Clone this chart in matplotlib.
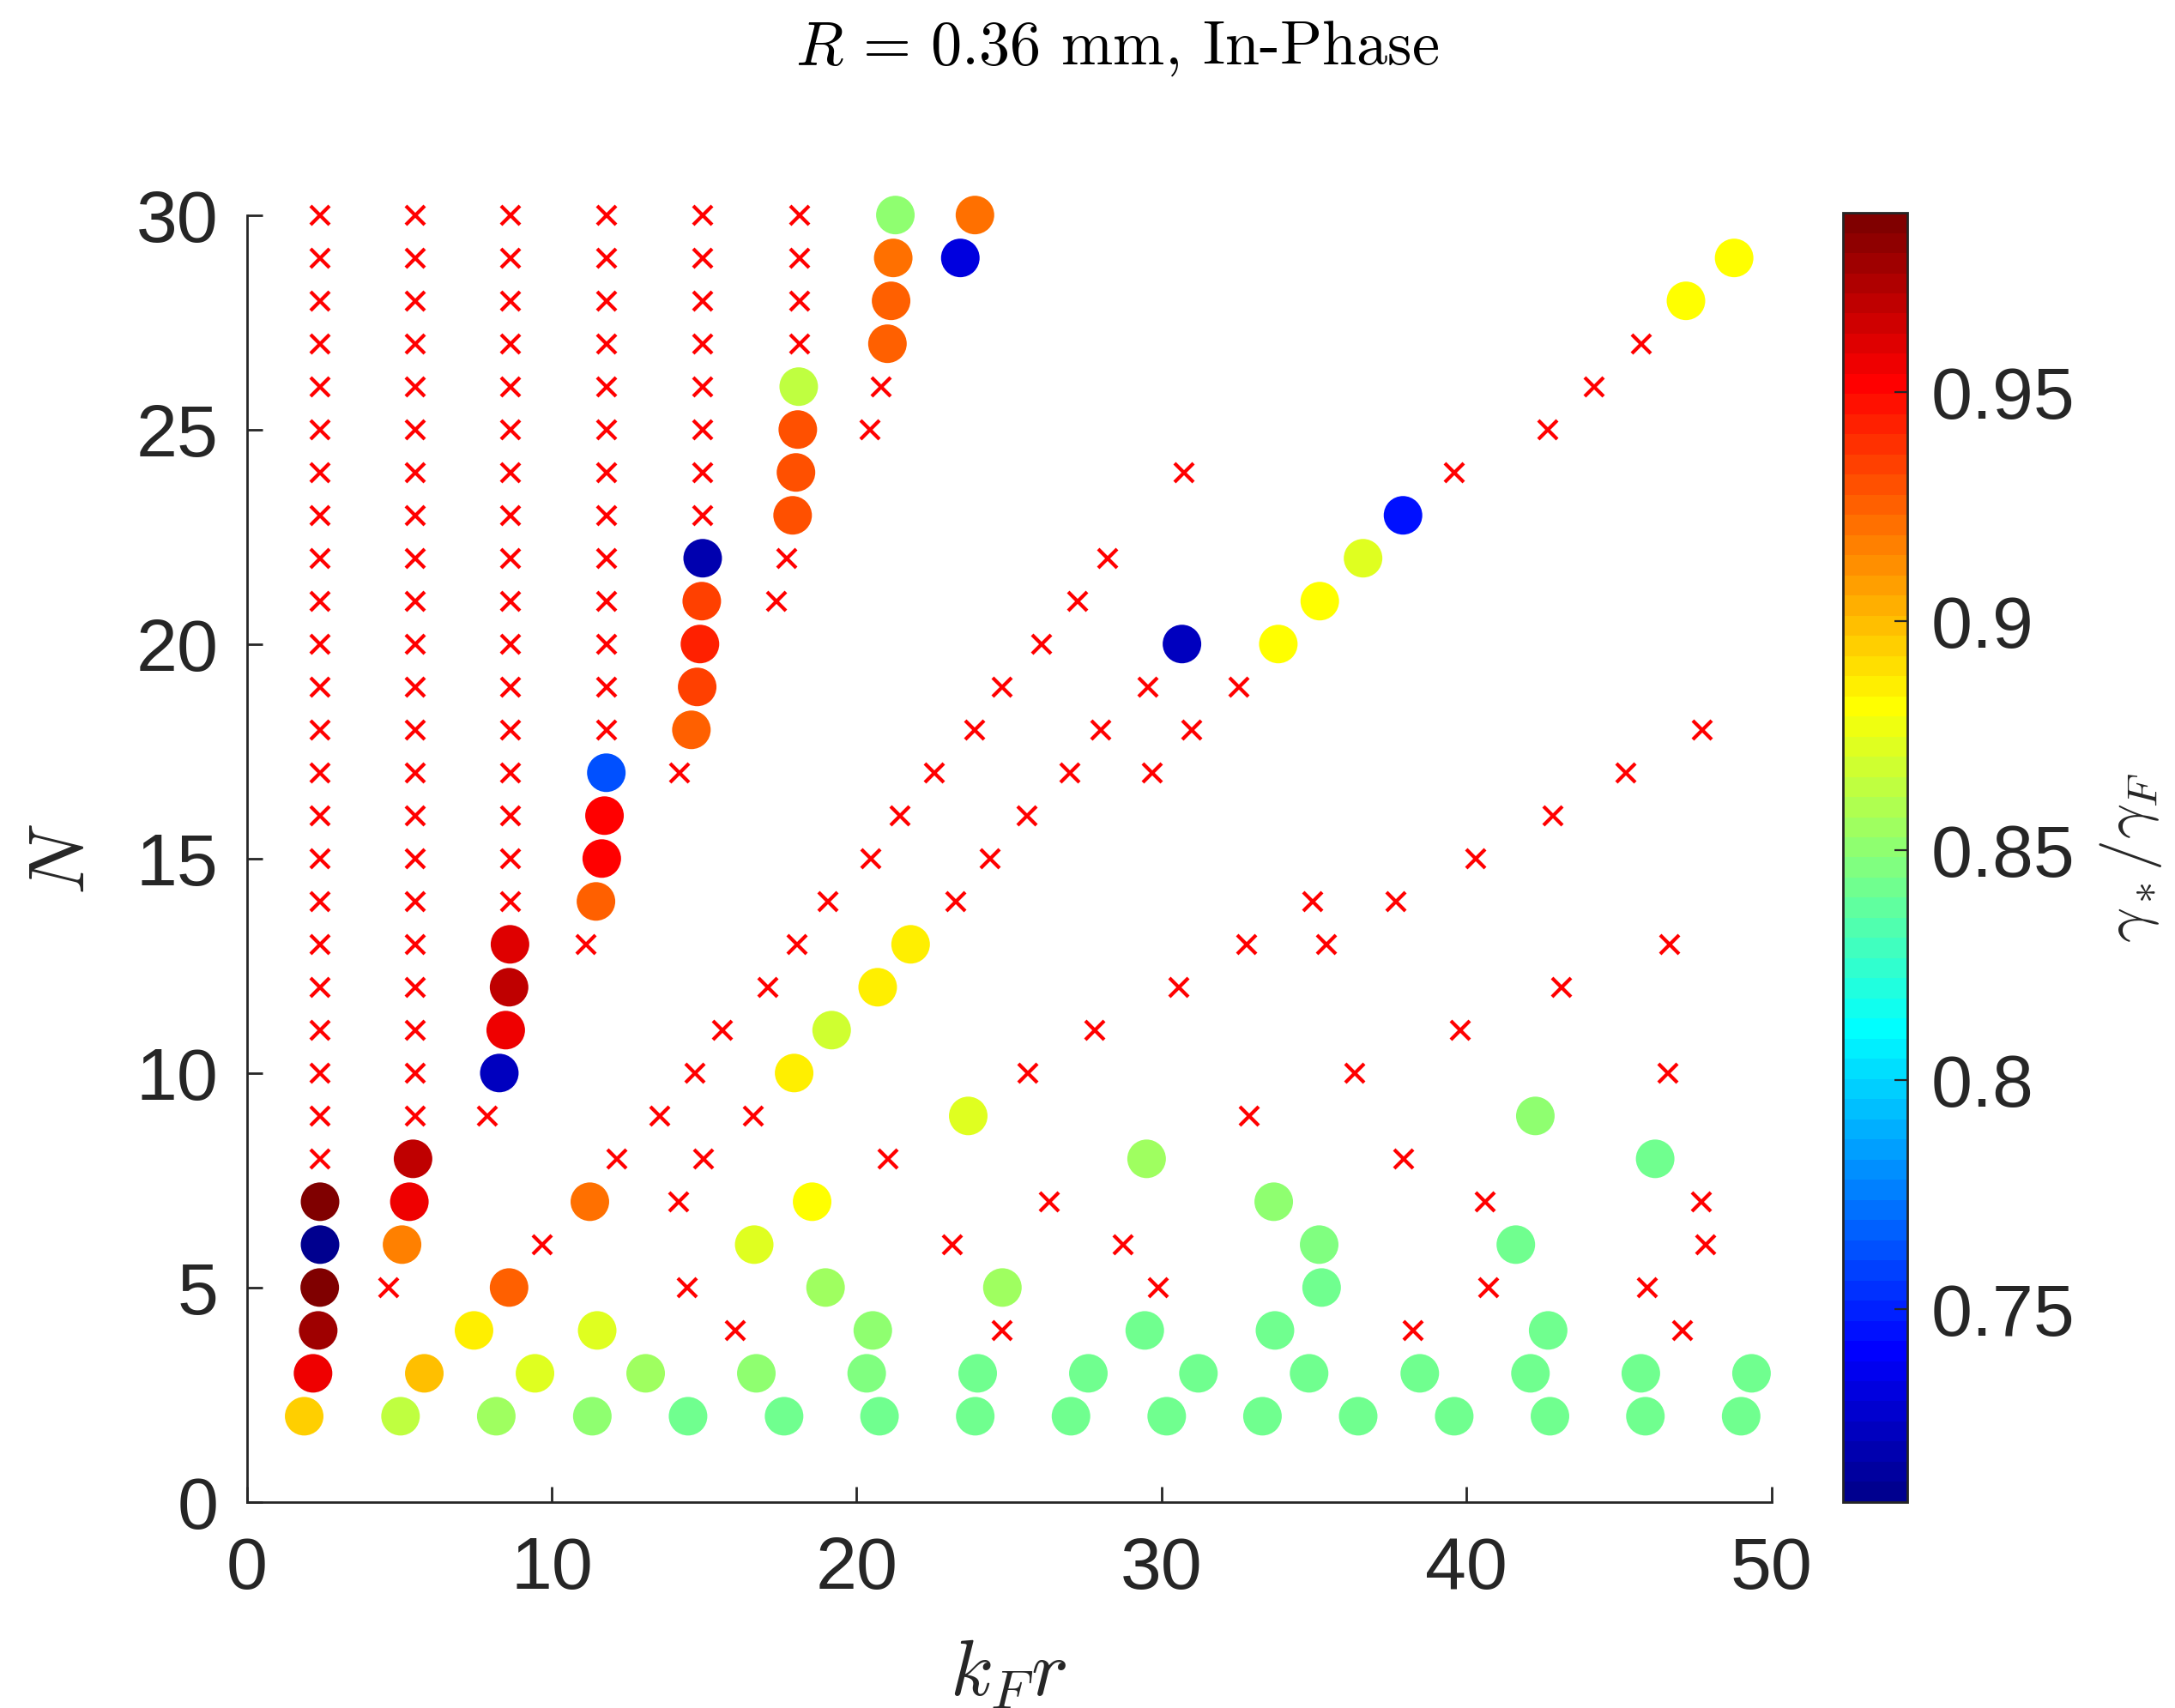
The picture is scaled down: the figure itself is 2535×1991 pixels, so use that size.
import numpy as np
import matplotlib
matplotlib.use("Agg")
import matplotlib.pyplot as plt
from matplotlib.colors import ListedColormap

# ---------------- data ----------------
# columns of excluded (cross) points: x position and N range
col_x = [2.40, 5.52, 8.65, 11.79, 14.96, 18.12]
col_nmin = [8, 9, 14, 18, 23, 27]
col_nmax = 30

# other excluded (cross) points
cross_x = [7.90, 11.11, 14.20, 17.72, 17.38, 20.80, 20.44,
           4.64, 9.70, 12.14, 13.55, 14.69, 15.61, 17.10, 18.05, 19.07, 20.48,
           21.41, 22.55, 23.86, 24.78, 26.07, 27.25, 28.24, 30.73,
           14.17, 14.97, 14.45, 16.01, 16.61, 21.04, 23.15, 23.26, 24.38, 25.58,
           26.99, 28.02, 29.56, 29.71, 31.00, 32.54,
           24.78, 25.62, 26.33, 27.81, 28.74, 29.90, 30.57, 32.78, 32.88, 34.96,
           35.40, 36.35, 37.69, 37.95, 38.26, 39.61, 39.80, 40.31, 40.61, 40.74,
           42.66, 42.84, 43.13, 44.18, 45.23, 45.75, 45.94, 46.61, 46.67, 47.09,
           47.72, 47.73, 47.84]
cross_n = [9, 13, 17, 22, 21, 26, 25,
           5, 6, 8, 9, 10, 11, 12, 13, 14, 15,
           16, 17, 18, 19, 20, 21, 22, 24,
           7, 8, 5, 4, 9, 8, 6, 14, 15, 16,
           17, 18, 19, 17, 18, 19,
           4, 10, 7, 11, 6, 5, 12, 13, 9, 14,
           13, 10, 14, 8, 4, 24, 11, 15, 7, 5,
           25, 16, 12, 26, 17, 27, 5, 10, 13, 4,
           7, 18, 6]

# valid points (circles) with gamma_*/gamma_F
pt_x = [1.88, 2.17, 2.34, 2.39, 2.40, 2.40,
        5.04, 5.82, 5.09, 5.33, 5.45,
        7.45, 8.18, 8.60, 8.28, 8.49, 8.60, 8.63,
        9.45, 11.25, 11.33, 11.45, 11.49, 11.64, 11.73, 11.79,
        13.08, 14.47, 14.58, 14.77, 14.86, 14.92, 14.95,
        16.64, 16.71, 17.62, 17.90, 17.95, 18.01, 18.07, 18.10,
        18.54, 18.98, 19.18, 20.33, 20.53, 20.69, 20.75,
        21.01, 21.13, 21.20, 21.27, 21.77,
        23.40, 23.66, 23.88, 23.97, 23.89, 24.78,
        27.03, 27.60, 29.45, 29.51, 30.17, 30.67, 31.21,
        33.31, 33.68, 33.72, 33.83, 34.84, 35.17, 35.25, 35.19,
        36.45, 36.61, 37.92, 38.47, 39.60, 41.62, 42.10, 42.26, 42.68, 42.74,
        45.72, 45.87, 46.19, 47.20, 48.78, 49.01, 49.35]
pt_n = [2, 3, 4, 5, 6, 7,
        2, 3, 6, 7, 8,
        4, 2, 5, 10, 11, 12, 13,
        3, 7, 2, 14, 4, 15, 16, 17,
        3, 2, 18, 19, 20, 21, 22,
        6, 3, 2, 23, 10, 24, 25, 26,
        7, 5, 11, 3, 4, 12, 2,
        27, 28, 29, 30, 13,
        29, 9, 30, 3, 2, 5,
        2, 3, 4, 8, 2, 20, 3,
        2, 7, 4, 20, 3, 6, 5, 21,
        2, 22, 23, 3, 2, 6, 3, 9, 4, 2,
        3, 2, 8, 28, 29, 2, 3]
pt_val = [0.895, 0.954, 0.977, 0.989, 0.711, 0.989,
          0.866, 0.897, 0.915, 0.958, 0.968,
          0.888, 0.853, 0.927, 0.723, 0.954, 0.968, 0.959,
          0.871, 0.919, 0.849, 0.927, 0.874, 0.950, 0.950, 0.761,
          0.857, 0.844, 0.927, 0.935, 0.941, 0.935, 0.717,
          0.874, 0.851, 0.844, 0.930, 0.884, 0.930, 0.930, 0.862,
          0.880, 0.857, 0.868, 0.846, 0.849, 0.884, 0.844,
          0.926, 0.925, 0.919, 0.849, 0.884,
          0.734, 0.871, 0.923, 0.844, 0.844, 0.856,
          0.844, 0.844, 0.844, 0.857, 0.844, 0.724, 0.844,
          0.844, 0.849, 0.844, 0.880, 0.844, 0.848, 0.844, 0.880,
          0.844, 0.874, 0.747, 0.844, 0.844, 0.844, 0.844, 0.849, 0.844, 0.844,
          0.844, 0.844, 0.844, 0.880, 0.880, 0.844, 0.844]

clim = (0.708, 0.989)
cbar_ticks = [0.75, 0.8, 0.85, 0.9, 0.95]
cbar_ticklabels = ['0.75', '0.8', '0.85', '0.9', '0.95']
x_ticks = [0, 10, 20, 30, 40, 50]
y_ticks = [0, 5, 10, 15, 20, 25, 30]


def matlab_jet(m=64):
    n = int(np.ceil(m / 4))
    u = np.concatenate([np.arange(1, n + 1) / n, np.ones(n - 1), np.arange(n, 0, -1) / n])
    g = int(np.ceil(n / 2)) - (1 if m % 4 == 1 else 0) + np.arange(1, len(u) + 1)
    r = g + n
    b = g - n
    J = np.zeros((m, 3))
    mr = r <= m
    J[r[mr] - 1, 0] = u[mr]
    mg = g <= m
    J[g[mg] - 1, 1] = u[mg]
    mb = b >= 1
    J[b[mb] - 1, 2] = u[len(u) - mb.sum():]
    return ListedColormap(J)


# ---------------- style ----------------
plt.rcParams['font.family'] = ['Liberation Sans', 'DejaVu Sans']
plt.rcParams['mathtext.fontset'] = 'cm'
dark = '#262626'

fig = plt.figure(figsize=(12.675, 9.955), dpi=200)
ax = fig.add_axes([0.1135, 0.1206, 0.7009, 0.7535])

cx = []
cn = []
for x, nmin in zip(col_x, col_nmin):
    for n in range(nmin, col_nmax + 1):
        cx.append(x)
        cn.append(n)
cx += cross_x
cn += cross_n
ax.plot(cx, cn, linestyle='none', marker='x', color='red', markersize=8,
        markeredgewidth=1.5, clip_on=False, zorder=3)

cmap = matlab_jet(64)
sc = ax.scatter(pt_x, pt_n, c=pt_val, cmap=cmap, vmin=clim[0], vmax=clim[1],
                s=262, linewidths=0, clip_on=False, zorder=4)

ax.set_xlim(0, 50)
ax.set_ylim(0, 30)
ax.set_xticks(x_ticks)
ax.set_yticks(y_ticks)
for s in ['top', 'right']:
    ax.spines[s].set_visible(False)
for s in ['left', 'bottom']:
    ax.spines[s].set_color(dark)
    ax.spines[s].set_linewidth(1.0)
ax.tick_params(direction='in', length=6.5, width=1.0, color=dark,
               labelcolor=dark, labelsize=31)
ax.tick_params(axis='x', pad=14)
ax.tick_params(axis='y', pad=12)

fig.text(0.4635, 0.0075, r'$k_F r$', fontsize=33, ha='center', va='baseline', color=dark)
fig.text(0.029, 0.497, r'$N$', fontsize=33, ha='center', va='center', rotation=90, color=dark)
fig.text(0.5136, 0.9623, r'$R\,=\,0.36$ mm, In-Phase', fontfamily='cmr10', fontsize=26,
         ha='center', va='baseline', color='black')

cax = fig.add_axes([0.8473, 0.1206, 0.0296, 0.7548])
cb = fig.colorbar(sc, cax=cax)
cb.set_ticks(cbar_ticks)
cb.set_ticklabels(cbar_ticklabels)
cb.outline.set_edgecolor(dark)
cb.outline.set_linewidth(1.0)
cax.tick_params(direction='in', length=5.4, width=0.8, color=dark,
                labelcolor=dark, labelsize=31, pad=10)
fig.text(0.9795, 0.4977, r'$\gamma_*/\gamma_F$', fontsize=26, ha='center', va='center',
         rotation=90, color=dark)

fig.savefig('out.png', dpi=200)
